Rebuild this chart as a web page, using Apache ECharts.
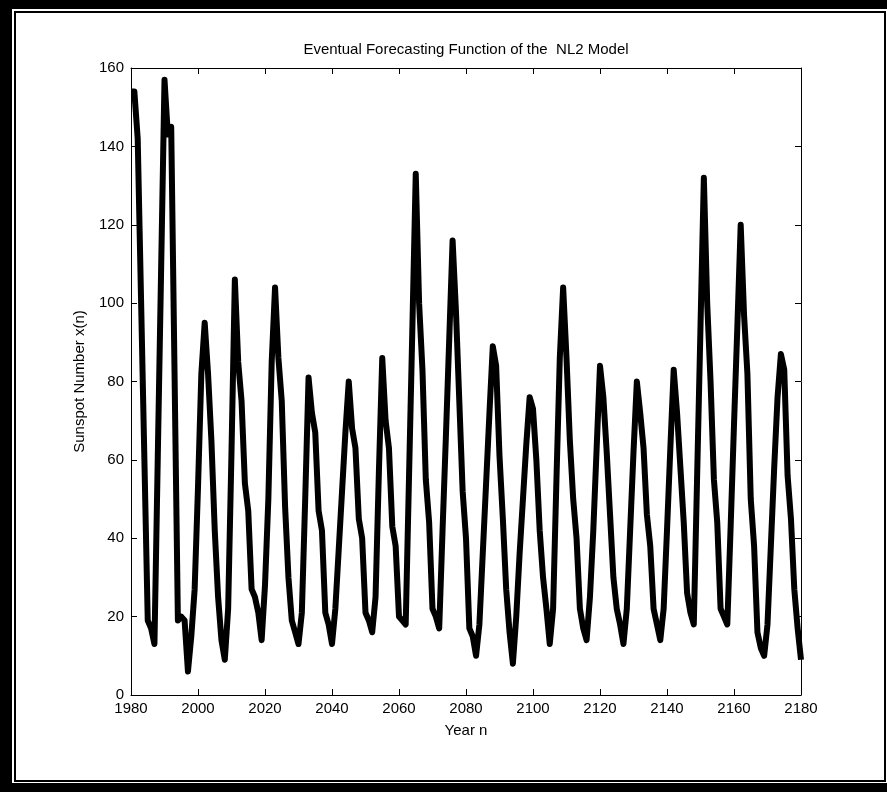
<!DOCTYPE html>
<html>
<head>
<meta charset="utf-8">
<script src="https://cdn.jsdelivr.net/npm/echarts@6/dist/echarts.min.js"></script>
<style>
html,body{margin:0;padding:0;background:#fff;}
#c{width:887px;height:792px;}
</style>
</head>
<body>
<div id="c"></div>
<script>
// ---- data (annual forecast values) ----
const startYear = 1980;
const vals1980 = [154,154,142,101,60,19,17,13,61,109,157,143,145,82,19,20,19,6,15,27];
const vals2000 = [53,82,95,82,65,42,25,14,9,22,62,106,85,75,54,47,27,25,21,14];
const vals2020 = [28,50,85,104,86,75,48,30,19,16,13,21,50,81,72,67,47,42,21,18];
const vals2040 = [13,22,37,52,67,80,68,63,45,40,21,19,16,25,57,86,70,63,43,38];
const vals2060 = [20,19,18,56,94,133,100,83,55,44,22,20,17,42,66,91,116,98,75,52];
const vals2080 = [40,17,15,10,18,36,54,72,89,84,61,45,27,16,8,20,36,50,64,76];
const vals2100 = [73,60,42,30,22,13,22,55,86,104,86,65,50,40,22,17,14,25,42,63];
const vals2120 = [84,76,62,46,30,22,18,13,22,42,62,80,72,63,46,38,22,18,14,22];
const vals2140 = [42,63,83,72,58,44,26,21,18,56,94,132,100,80,55,44,22,20,18,43];
const vals2160 = [69,94,120,97,82,50,38,16,12,10,18,38,58,76,87,83,56,45,27,17];
const vals2180 = [9];

const xTicks = [1980,2000,2020,2040,2060,2080,2100,2120,2140,2160,2180];
const yTicks = [0,20,40,60,80,100,120,140,160];

const titleText = 'Eventual Forecasting Function of the  NL2 Model';
const xName = 'Year n';
const yName = 'Sunspot Number x(n)';

// ---- build ----
const allVals = [].concat(vals1980, vals2000, vals2020, vals2040, vals2060,
                          vals2080, vals2100, vals2120, vals2140, vals2160, vals2180);
const seriesData = allVals.map((v, i) => [startYear + i, v]);

const FONT = 'Liberation Sans, Arial, Helvetica, sans-serif';
const FS = 15;
const xMin = xTicks[0], xMax = xTicks[xTicks.length - 1], xInt = xTicks[1] - xTicks[0];
const yMin = yTicks[0], yMax = yTicks[yTicks.length - 1], yInt = yTicks[1] - yTicks[0];

function axisBase() {
  return {
    axisLine: { show: true, onZero: false, lineStyle: { color: '#000', width: 1 } },
    axisTick: { show: true, inside: true, length: 6, lineStyle: { color: '#000', width: 1 } },
    splitLine: { show: false }
  };
}
const plain = v => String(v);

const chart = echarts.init(document.getElementById('c'), null, { renderer: 'canvas' });

const option = {
  animation: false,
  backgroundColor: '#fff',
  grid: { left: 131, right: 86, top: 68, bottom: 97, containLabel: false },
  xAxis: [
    Object.assign(axisBase(), {
      type: 'value', min: xMin, max: xMax, interval: xInt, position: 'bottom',
      name: xName, nameLocation: 'middle', nameGap: 28,
      nameTextStyle: { fontFamily: FONT, fontSize: FS, color: '#000' },
      axisLabel: { margin: 6, fontFamily: FONT, fontSize: FS, color: '#000', formatter: plain }
    }),
    Object.assign(axisBase(), {
      type: 'value', min: xMin, max: xMax, interval: xInt, position: 'top',
      axisLabel: { show: false }
    })
  ],
  yAxis: [
    Object.assign(axisBase(), {
      type: 'value', min: yMin, max: yMax, interval: yInt, position: 'left',
      name: yName, nameLocation: 'middle', nameGap: 44, nameRotate: 90,
      nameTextStyle: { fontFamily: FONT, fontSize: FS, color: '#000' },
      axisLabel: { margin: 7, fontFamily: FONT, fontSize: FS, color: '#000', formatter: plain }
    }),
    Object.assign(axisBase(), {
      type: 'value', min: yMin, max: yMax, interval: yInt, position: 'right',
      axisLabel: { show: false }
    })
  ],
  series: [{
    type: 'line',
    xAxisIndex: 0, yAxisIndex: 0,
    data: seriesData,
    symbol: 'none', showSymbol: false,
    clip: true,
    lineStyle: { color: '#000', width: 6, cap: 'butt', join: 'round' }
  }],
  graphic: [
    { type: 'rect', silent: true, shape: { x: 0, y: 0, width: 887, height: 9 }, style: { fill: '#000' } },
    { type: 'rect', silent: true, shape: { x: 0, y: 0, width: 12, height: 792 }, style: { fill: '#000' } },
    { type: 'rect', silent: true, shape: { x: 0, y: 783, width: 887, height: 9 }, style: { fill: '#000' } },
    { type: 'rect', silent: true, shape: { x: 15, y: 12, width: 870, height: 769 }, style: { fill: 'none', stroke: '#000', lineWidth: 2 } },
    { type: 'text', silent: true, x: 466, y: 50,
      style: { text: titleText, align: 'center', verticalAlign: 'middle', fontFamily: FONT, fontSize: FS, fill: '#000' } }
  ]
};
chart.setOption(option);
</script>
</body>
</html>
